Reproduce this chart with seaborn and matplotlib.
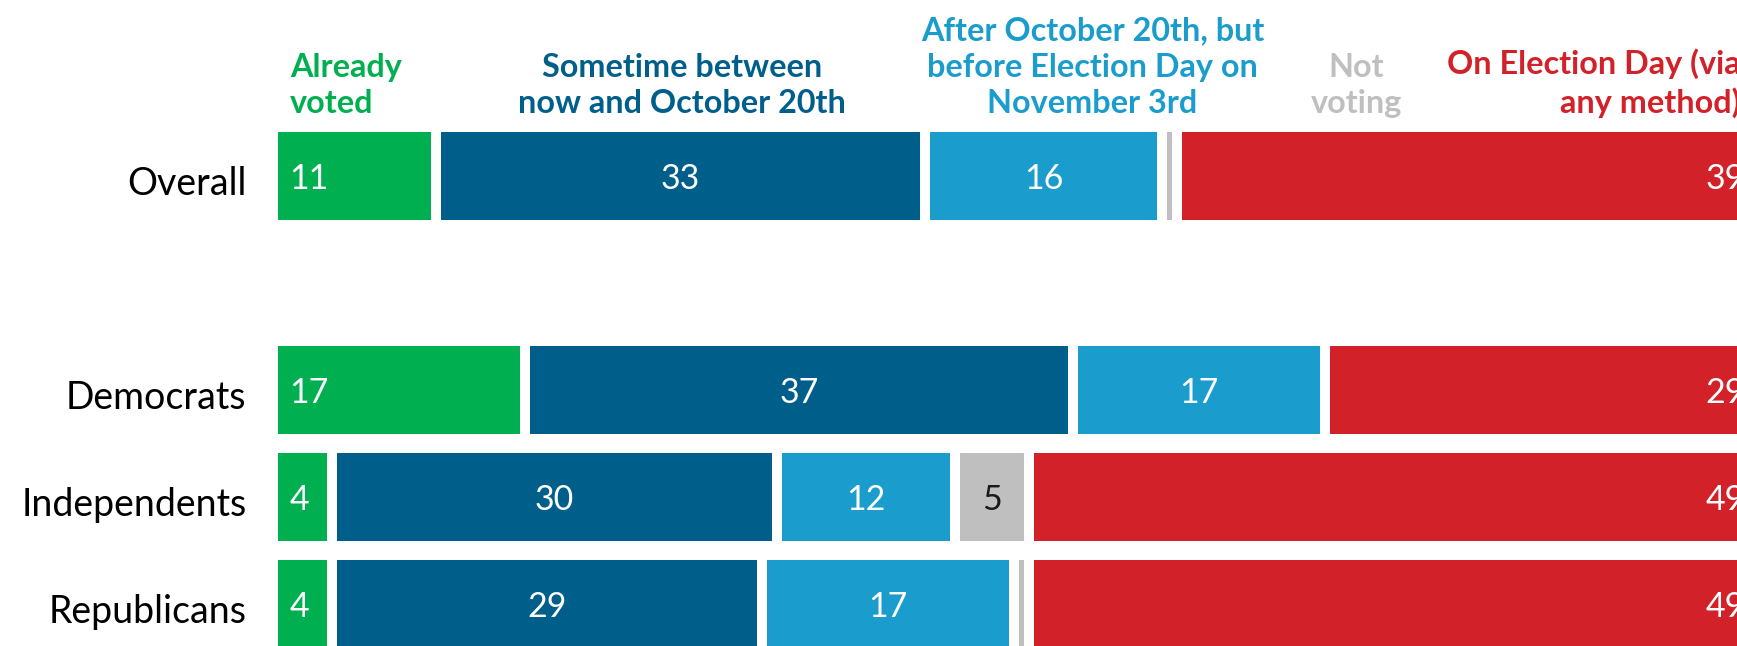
import pandas as pd
import seaborn as sns
import matplotlib.pyplot as plt
from matplotlib.transforms import ScaledTranslation

# Data
groups = ['Overall', 'Democrats', 'Independents', 'Republicans']
categories = ['Already voted', 'Sometime between now and October 20th',
              'After October 20th, but before Election Day on November 3rd',
              'Not voting', 'On Election Day (via any method)']
already_voted = [11, 17, 4, 4]
before_oct20 = [33, 37, 30, 29]
after_oct20 = [16, 17, 12, 17]
not_voting = [1, 0, 5, 1]
election_day = [39, 29, 49, 49]

headers = ['Already\nvoted', 'Sometime between\nnow and October 20th',
           'After October 20th, but\nbefore Election Day on\nNovember 3rd',
           'Not\nvoting', 'On Election Day (via\nany method)']
colors = ['#00b050', '#005e8a', '#1a9ccd', '#bfbfbf', '#d22128']

series = [already_voted, before_oct20, after_oct20, not_voting, election_day]
rows = []
for gi, g in enumerate(groups):
    cum = 0
    for ci, c in enumerate(categories):
        v = series[ci][gi]
        rows.append({'group': g, 'category': c, 'value': v, 'start': cum, 'end': cum + v})
        cum += v
df = pd.DataFrame(rows)

order = ['Overall', ' ', 'Democrats', 'Independents', 'Republicans']

sns.set_style('white')
plt.rcParams['font.family'] = ['Lato', 'DejaVu Sans']

fig = plt.figure(figsize=(17.37, 6.46), dpi=100)
ax = fig.add_axes([273 / 1737, 0, 1482 / 1737, 1])

# Stacked bars: draw cumulative ends from last category to first
for ci in range(len(categories) - 1, -1, -1):
    sub = df[df['category'] == categories[ci]]
    sns.barplot(data=sub, x='end', y='group', order=order, orient='h',
                color=colors[ci], saturation=1, width=0.916,
                edgecolor='white', linewidth=7.2, ax=ax)

ax.set_xlim(0, 100)
ax.set_ylim(4.393, -1.645)
ax.set_xlabel('')
ax.set_ylabel('')
ax.set_xticks([])
ax.tick_params(axis='y', length=0, pad=19, labelsize=27, labelcolor='black')
sns.despine(ax=ax, left=True, bottom=True, top=True, right=True)

# nudge row labels down a little
shift = ScaledTranslation(0, -0.05, fig.dpi_scale_trans)
for lab in ax.get_yticklabels():
    lab.set_transform(lab.get_transform() + shift)

# Value labels
for _, r in df.iterrows():
    if r['value'] < 2:
        continue
    y = order.index(r['group']) + 0.03
    ci = categories.index(r['category'])
    txt = str(r['value'])
    col = '#1a1a1a' if ci == 3 else 'white'
    if ci == 0:
        ax.text(r['start'] + 1.1, y, txt, ha='left', va='center', color=col, fontsize=24.5)
    elif ci == 4:
        ax.text(r['end'] - 0.7, y, txt, ha='right', va='center', color=col, fontsize=24.5)
    else:
        ax.text((r['start'] + r['end']) / 2, y, txt, ha='center', va='center', color=col, fontsize=24.5)

# Column headers above the Overall bar
header_x = [1.15, 27.6, 55.3, 73.1, 99.0]
header_ha = ['left', 'center', 'center', 'center', 'right']
for h, x, ha, c in zip(headers, header_x, header_ha, colors):
    ax.text(x, -0.54, h, ha=ha, va='bottom', multialignment=ha, color=c,
            fontsize=23.3, fontweight='bold', linespacing=1.32)

plt.savefig('out.png', dpi=100)
